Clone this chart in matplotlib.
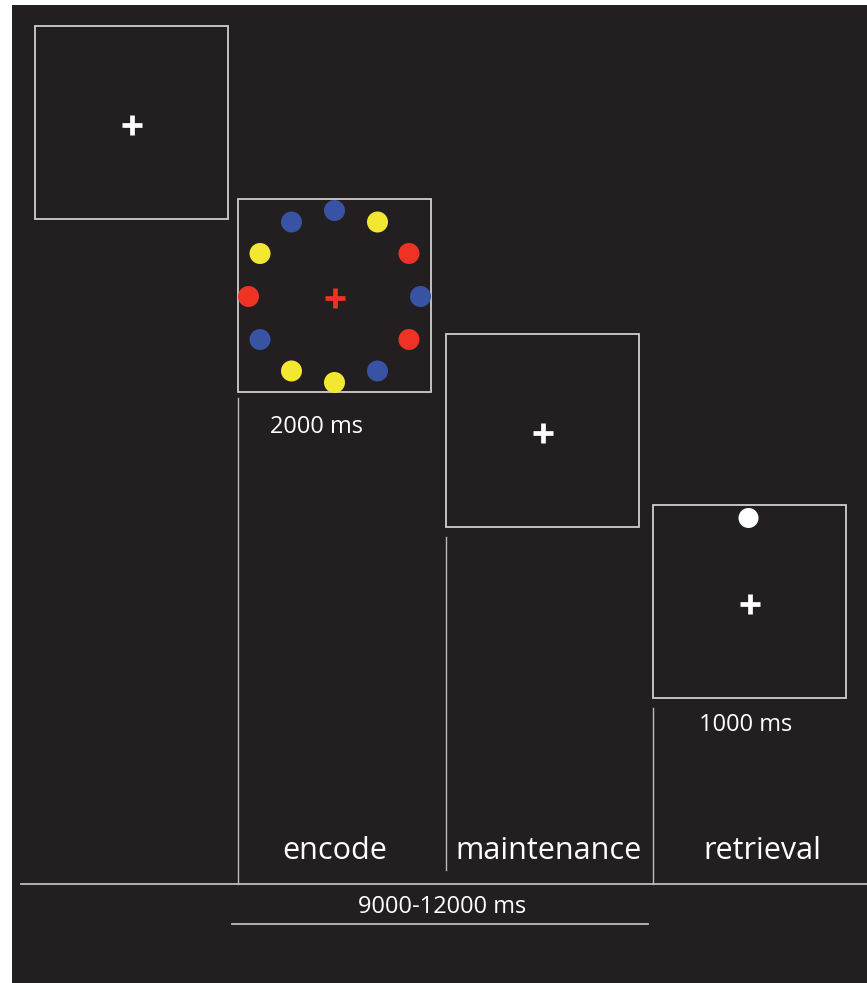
import numpy as np
import matplotlib
matplotlib.use("Agg")
import matplotlib.pyplot as plt
from matplotlib.patches import Rectangle, Circle

# canvas in pixel units (y grows downward)
W, H = 867, 983
BG = "#231f20"

# the four screens of a trial: left, top, size
box_left = [35, 238, 446, 653]
box_top = [26, 199, 334, 505]
box_size = 193
cross_colors = ["white", "#ee3224", "white", "white"]

# memory array in the encode screen
dot_angles = np.arange(0, 360, 30)  # degrees clockwise from top
dot_colors = ["#3953a4", "#f3e831", "#ee3224", "#3953a4", "#ee3224", "#3953a4",
              "#f3e831", "#f3e831", "#3953a4", "#ee3224", "#f3e831", "#3953a4"]
ring_rx, ring_ry = 86, 86
dot_radius = 10.5

# vertical separators: x, y start, y end
sep_x = [238, 446, 653]
sep_y0 = [398, 537, 708]
sep_y1 = [884, 870, 884]

phase_labels = ["encode", "maintenance", "retrieval"]
phase_x = [335, 549, 762]
durations = ["2000 ms", "1000 ms"]
duration_xy = [(317, 427), (746, 725)]
iti_label = "9000-12000 ms"

plt.rcParams["font.family"] = ["Open Sans", "DejaVu Sans"]

fig = plt.figure(figsize=(W / 100, H / 100), dpi=100)
ax = fig.add_axes([0, 0, 1, 1])
ax.set_xlim(0, W)
ax.set_ylim(H, 0)
ax.axis("off")
fig.patch.set_facecolor("white")

ax.add_patch(Rectangle((12, 5), W - 12, H - 5, facecolor=BG, edgecolor="none"))

line_col = "#cfcfcf"
for i, (x, y) in enumerate(zip(box_left, box_top)):
    ax.add_patch(Rectangle((x, y), box_size, box_size, facecolor="none",
                           edgecolor=line_col, lw=1.3))
    cx, cy = x + box_size / 2, y + box_size / 2 + 2
    ax.plot(cx, cy, marker="+", ms=14, mew=3.4, color=cross_colors[i])

# coloured dots in encode screen
ecx = box_left[1] + box_size / 2
ecy = box_top[1] + box_size / 2 + 1
for ang, col in zip(dot_angles, dot_colors):
    a = np.deg2rad(ang)
    ax.add_patch(Circle((ecx + ring_rx * np.sin(a), ecy - ring_ry * np.cos(a)),
                        dot_radius, facecolor=col, edgecolor="none"))

# probe dot in retrieval screen
ax.add_patch(Circle((box_left[3] + box_size / 2 - 1, box_top[3] + 13), 10,
                    facecolor="white", edgecolor="none"))

for x, y0, y1 in zip(sep_x, sep_y0, sep_y1):
    ax.plot([x, x], [y0, y1], color="#bdbdbd", lw=1.0)

ax.plot([21, W], [884, 884], color="#bdbdbd", lw=1.3)
ax.plot([232, 648], [924, 924], color="#bdbdbd", lw=1.3)

for lab, x in zip(phase_labels, phase_x):
    ax.text(x, 851, lab, color="white", fontsize=22, ha="center", va="center")
for lab, (x, y) in zip(durations, duration_xy):
    ax.text(x, y, lab, color="white", fontsize=17, ha="center", va="center")
ax.text(442, 907, iti_label, color="white", fontsize=17, ha="center", va="center")

fig.savefig("out.png", dpi=100, facecolor=fig.get_facecolor())
